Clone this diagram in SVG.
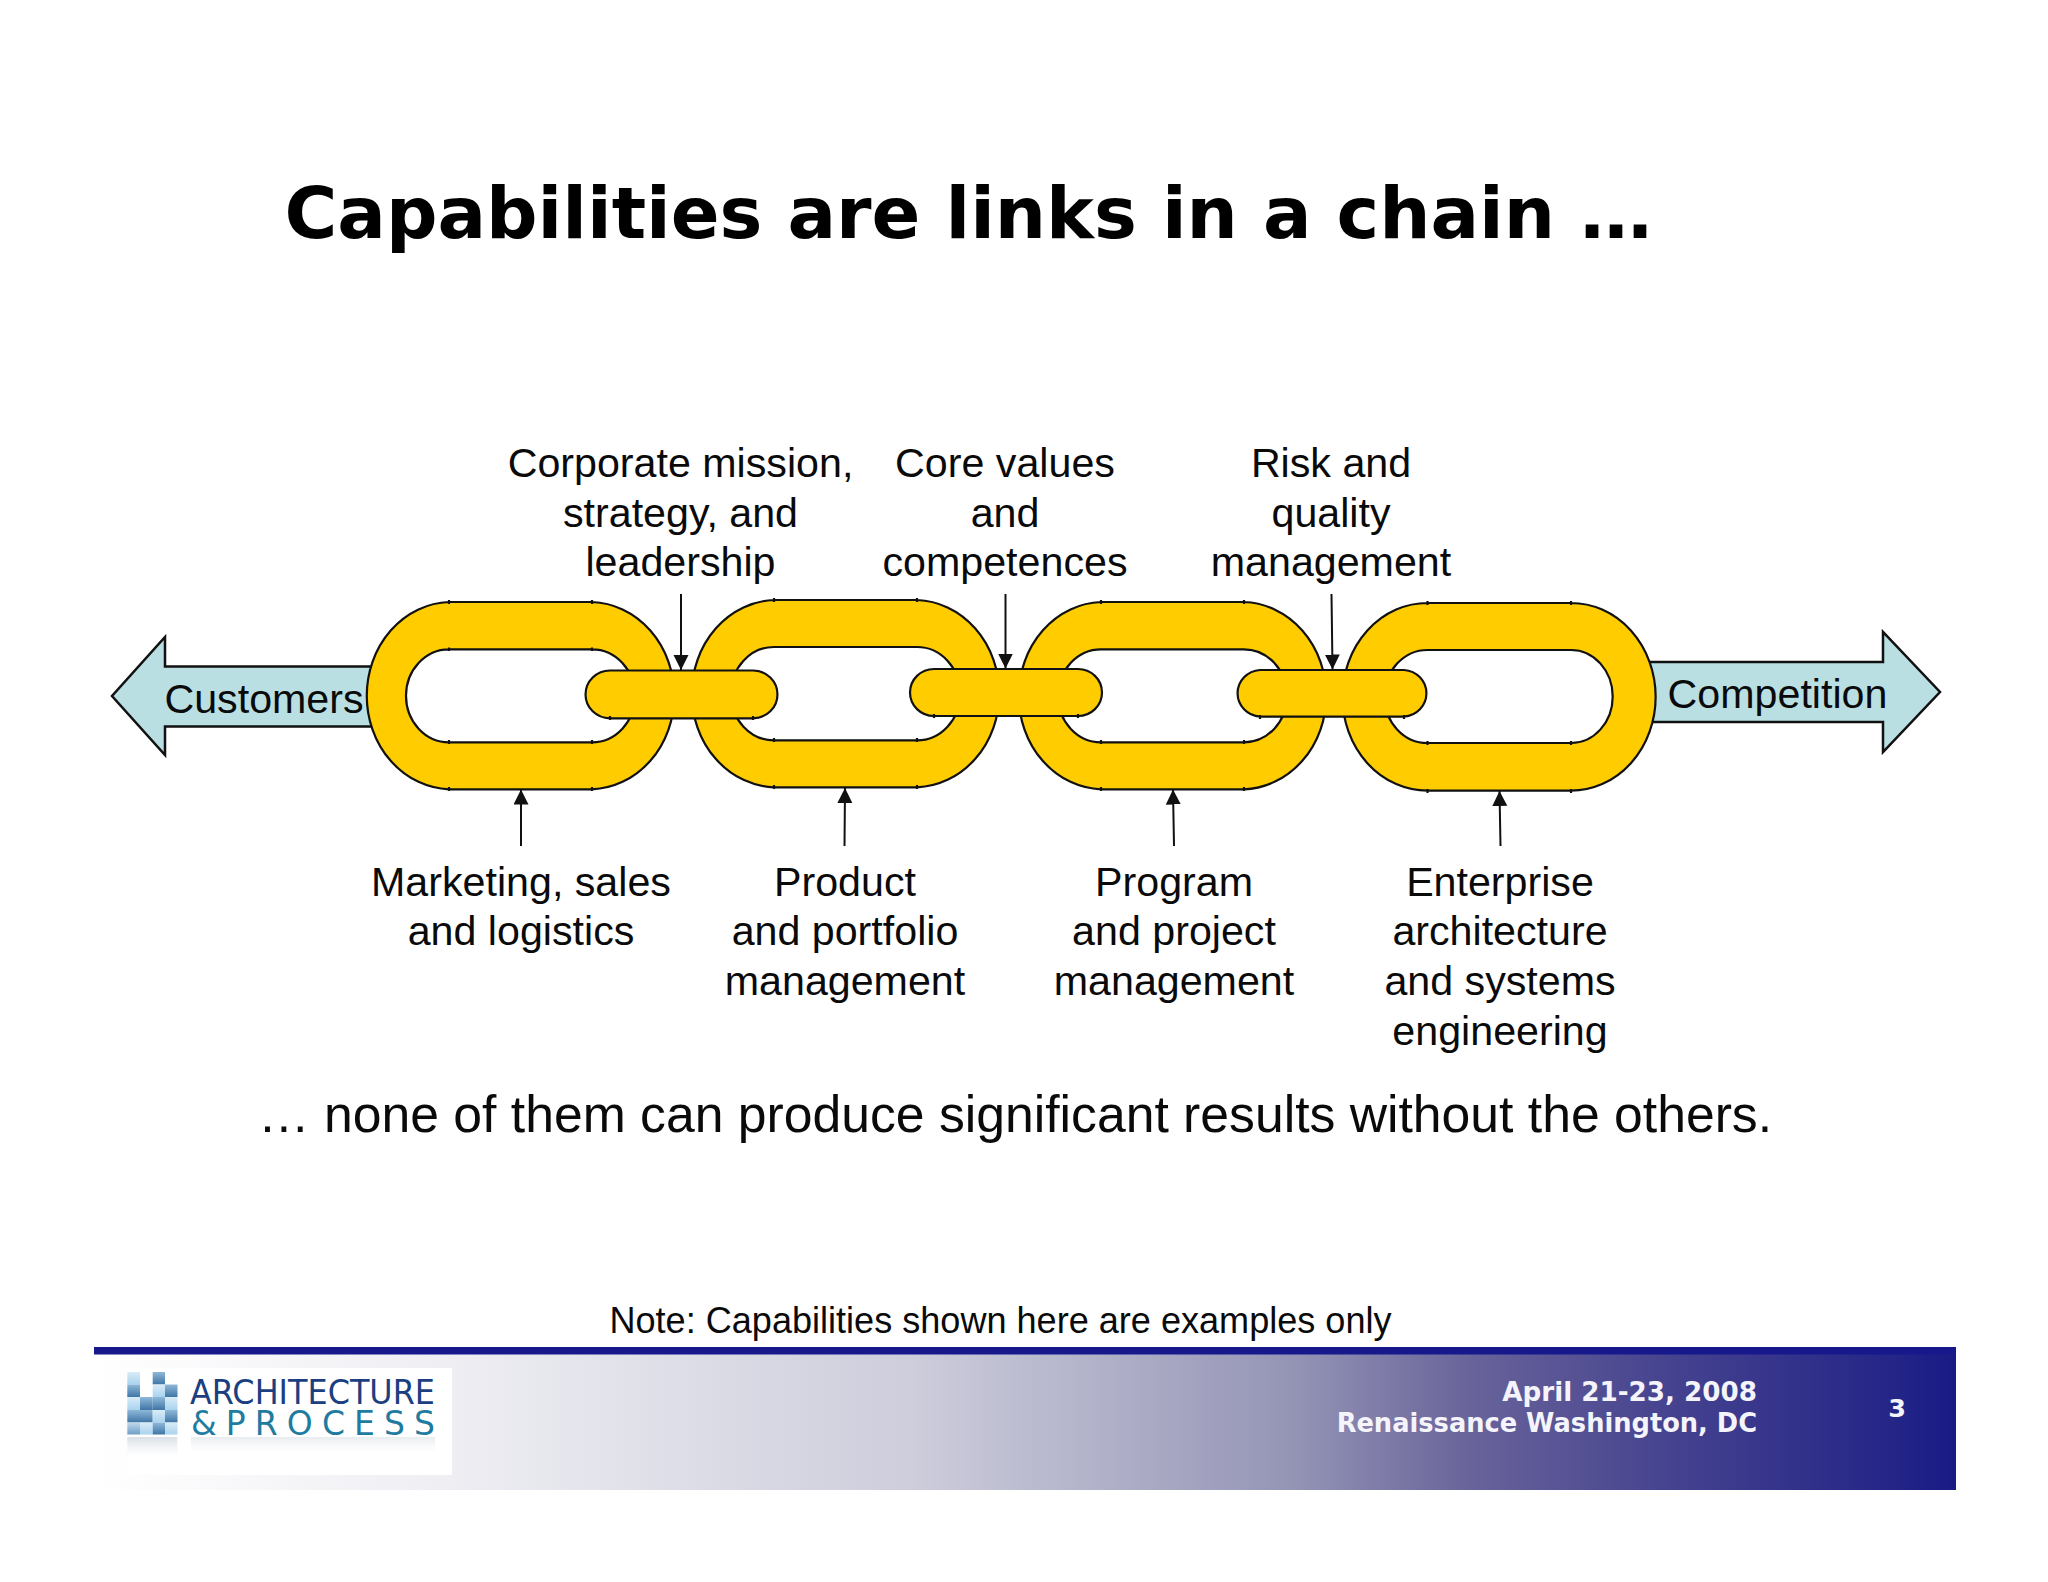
<svg xmlns="http://www.w3.org/2000/svg" width="2048" height="1582" viewBox="0 0 2048 1582">
<style>
.t{font-family:"Liberation Sans",Arial,sans-serif;font-size:41.2px;fill:#0a0a0a;text-anchor:middle}
.d{font-family:"DejaVu Sans",Verdana,sans-serif;font-weight:bold}
.gold{fill:#ffcc00;stroke:#111;stroke-width:2.2;fill-rule:evenodd}
.blue{fill:#b9dfe3;stroke:#111;stroke-width:2.5}
.c{stroke:#111;stroke-width:2;fill:none;marker-end:url(#ah)}
.a{fill:url(#sq1)}.b{fill:url(#sq2)}.e{fill:url(#sq3)}
</style>
<defs>
<marker id="ah" markerUnits="userSpaceOnUse" markerWidth="16" markerHeight="16" refX="15" refY="7.5" orient="auto"><path d="M0 0L15 7.5L0 15Z" fill="#111"/></marker>
<linearGradient id="band" x1="94" x2="1956" y1="0" y2="0" gradientUnits="userSpaceOnUse">
<stop offset="0" stop-color="#ffffff"/><stop offset=".19" stop-color="#eeeef3"/><stop offset=".44" stop-color="#cdcddc"/><stop offset=".647" stop-color="#9393b5"/><stop offset=".74" stop-color="#68639a"/><stop offset=".848" stop-color="#45428f"/><stop offset=".97" stop-color="#232487"/><stop offset="1" stop-color="#191a85"/>
</linearGradient>
<linearGradient id="sq1" x1="0" x2="0" y1="0" y2="1"><stop offset="0" stop-color="#d9ecf8"/><stop offset="1" stop-color="#a9d3ef"/></linearGradient>
<linearGradient id="sq2" x1="0" x2="0" y1="0" y2="1"><stop offset="0" stop-color="#8fb8d8"/><stop offset="1" stop-color="#3f76a6"/></linearGradient>
<linearGradient id="sq3" x1="0" x2="0" y1="0" y2="1"><stop offset="0" stop-color="#c0d8ea"/><stop offset="1" stop-color="#6e9fc6"/></linearGradient>
<linearGradient id="refl" x1="0" x2="0" y1="0" y2="1"><stop offset="0" stop-color="#c9d3dc" stop-opacity=".7"/><stop offset="1" stop-color="#e6eaee" stop-opacity="0"/></linearGradient>
</defs>
<rect width="2048" height="1582" fill="#fff"/>
<text id="title" class="d" x="284.500" y="238" font-size="72" fill="#000">Capabilities are links in a chain …</text>

<g id="customers"><path class="blue" d="M385 666.500H165V637L112 696L165 755V726.500H385Z"/></g>
<g id="competition"><path class="blue" d="M1630 662H1883V632L1940 692L1883 752V722H1630Z"/></g>

<g id="link1"><path class="gold" d="M449 602H592A85 93.700 0 0 1 592 789.300H449A85 93.700 0 0 1 449 602ZM449 649.300A43 46.500 0 0 0 449 742.300H592A43 46.500 0 0 0 592 649.300ZM449 600V604M592 600V604M449 787V791M592 787V791M449 647.500V651M592 647.500V651M449 740V744M592 740V744"/></g>
<g id="link2"><path class="gold" d="M774 600H917A85 93.700 0 0 1 917 787.300H774A85 93.700 0 0 1 774 600ZM774 647A43 46.500 0 0 0 774 740.300H917A43 46.500 0 0 0 917 647ZM774 598V602M917 598V602M774 785V789M917 785V789M774 738V742M917 738V742"/></g>
<g id="link3"><path class="gold" d="M1101 602H1244A85 93.700 0 0 1 1244 789.300H1101A85 93.700 0 0 1 1101 602ZM1101 649.300A43 46.500 0 0 0 1101 742.300H1244A43 46.500 0 0 0 1244 649.300ZM1101 600V604M1244 600V604M1101 787V791M1244 787V791M1101 740V744M1244 740V744"/></g>
<g id="link4"><path class="gold" d="M1427.500 603H1571A84.600 93.800 0 0 1 1571 790.700H1427.500A85 93.800 0 0 1 1427.500 603ZM1427.500 650A43 46.500 0 0 0 1427.500 743H1571A41.700 46.500 0 0 0 1571 650ZM1427.500 601V605M1571 601V605M1427.500 789V793M1571 789V793M1427.500 741V745M1571 741V745"/></g>
<g id="bar1"><path class="gold" d="M610 670.500H753A24.500 23.900 0 0 1 753 718.300H610A24.500 23.900 0 0 1 610 670.500ZM753 716V720M610 716V720"/></g>
<g id="bar2"><path class="gold" d="M934 669H1078A24 23.500 0 0 1 1078 716H934A24 23.500 0 0 1 934 669ZM1078 714V718M934 714V718"/></g>
<g id="bar3"><path class="gold" d="M1260 670H1404A24 23.400 0 0 1 1404 716.700H1260A24 23.400 0 0 1 1260 670ZM1404 715V719M1260 715V719"/></g>

<text id="customers-label" class="t" x="264" y="713">Customers</text>
<text id="competition-label" class="t" x="1777.500" y="708">Competition</text>

<g id="connectors">
<path class="c" d="M681 594V670"/>
<path class="c" d="M1005.500 594V668.500"/>
<path class="c" d="M1331.500 594L1332.500 669.500"/>
<path class="c" d="M521 846V789.500"/>
<path class="c" d="M844.500 846L845 788"/>
<path class="c" d="M1174 846L1173 789.500"/>
<path class="c" d="M1500.500 846L1499.500 791"/>
</g>

<g id="label-top1"><text class="t" x="680.500" y="477">Corporate mission,</text><text class="t" x="680.500" y="527">strategy, and</text><text class="t" x="680.500" y="576">leadership</text></g>
<g id="label-top2"><text class="t" x="1005" y="477">Core values</text><text class="t" x="1005" y="527">and</text><text class="t" x="1005" y="576">competences</text></g>
<g id="label-top3"><text class="t" x="1331" y="477">Risk and</text><text class="t" x="1331" y="527">quality</text><text class="t" x="1331" y="576">management</text></g>
<g id="label-bot1"><text class="t" x="521" y="896">Marketing, sales</text><text class="t" x="521" y="945">and logistics</text></g>
<g id="label-bot2"><text class="t" x="845" y="896">Product</text><text class="t" x="845" y="945">and portfolio</text><text class="t" x="845" y="995">management</text></g>
<g id="label-bot3"><text class="t" x="1174" y="896">Program</text><text class="t" x="1174" y="945">and project</text><text class="t" x="1174" y="995">management</text></g>
<g id="label-bot4"><text class="t" x="1500" y="896">Enterprise</text><text class="t" x="1500" y="945">architecture</text><text class="t" x="1500" y="995">and systems</text><text class="t" x="1500" y="1045">engineering</text></g>

<text id="sentence" class="t" x="1015" y="1132" style="font-size:51.700px">… none of them can produce significant results without the others.</text>
<text id="note" class="t" x="1000.500" y="1333" style="font-size:36.100px">Note: Capabilities shown here are examples only</text>

<g id="footer">
<rect x="94" y="1347" width="1862" height="143" fill="url(#band)"/>
<rect x="94" y="1347" width="1862" height="7.500" fill="#16188c"/>
<text class="d" x="1757" y="1401" font-size="26.200" fill="#f4f4fa" text-anchor="end">April 21-23, 2008</text>
<text class="d" x="1757" y="1432" font-size="25.700" fill="#f4f4fa" text-anchor="end">Renaissance Washington, DC</text>
<text class="d" x="1897" y="1417" font-size="25.500" fill="#f4f4fa" text-anchor="middle">3</text>
</g>
<g id="logo">
<rect x="127" y="1368" width="325" height="107" fill="#fff"/>
<rect class="a" x="127.300" y="1372" width="12.700" height="12.500"/><rect class="b" x="152.700" y="1372" width="12.300" height="12.500"/>
<rect class="b" x="127.300" y="1384.500" width="12.700" height="12.500"/><rect class="a" x="152.700" y="1384.500" width="12.300" height="12.500"/><rect class="b" x="165" y="1384.500" width="12.500" height="12.500"/>
<rect class="a" x="127.300" y="1397" width="12.700" height="13"/><rect class="b" x="140" y="1397" width="12.700" height="13"/><rect class="b" x="152.700" y="1397" width="12.300" height="13"/><rect class="a" x="165" y="1397" width="12.500" height="13"/>
<rect class="b" x="127.300" y="1410" width="12.700" height="12.500"/><rect class="b" x="140" y="1410" width="12.700" height="12.500"/><rect class="a" x="152.700" y="1410" width="12.300" height="12.500"/><rect class="b" x="165" y="1410" width="12.500" height="12.500"/>
<rect class="e" x="127.300" y="1422.500" width="12.700" height="12"/><rect class="a" x="140" y="1422.500" width="12.700" height="12"/><rect class="b" x="152.700" y="1422.500" width="12.300" height="12"/><rect class="a" x="165" y="1422.500" width="12.500" height="12"/>
<rect x="127.300" y="1437" width="50" height="20" fill="url(#refl)"/>
<rect x="191" y="1437" width="244" height="16" fill="url(#refl)" opacity=".6"/>
<text font-family="'DejaVu Sans',sans-serif" font-size="33"><tspan x="190" y="1404" fill="#1b3f80" textLength="245" lengthAdjust="spacingAndGlyphs">ARCHITECTURE</tspan><tspan x="191" y="1435" fill="#1f7ba0" textLength="244">&amp; P R O C E S S</tspan></text>
</g>
</svg>
